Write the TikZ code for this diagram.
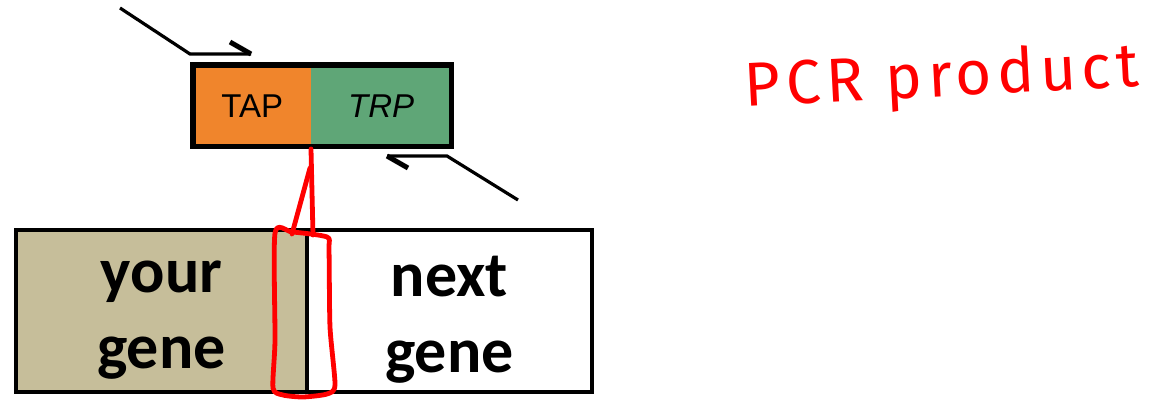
\documentclass[tikz,border=0pt]{standalone}
\usepackage{fontspec}
\setmainfont{Carlito}
\newfontfamily\helv{Liberation Sans}
\newfontfamily\hand[LetterSpace=9]{Fira Sans}
\definecolor{taporange}{HTML}{F0852C}
\definecolor{trpgreen}{HTML}{5FA677}
\definecolor{khaki}{HTML}{C6BE9A}
\definecolor{pen}{HTML}{FF0000}
\begin{document}
\begin{tikzpicture}[x=1pt,y=-1pt,
  genebox/.style={draw=black,line width=4pt,minimum height=162pt,inner sep=0pt},
  genetext/.style={font=\bfseries\fontsize{64}{76}\selectfont,align=center,inner sep=0pt},
  tagfill/.style={minimum height=81pt,inner sep=0pt,font=\helv\fontsize{33}{38}\selectfont},
  tagframe/.style={draw=black,line width=5.5pt},
  primer/.style={line width=3.2pt,black},
  barb/.style={line width=5pt,black},
  ink/.style={pen,line width=4.8pt,line cap=round,line join=round}]
\useasboundingbox (0,0) rectangle (1169,406);
% bottom genes
\node[genebox,fill=khaki,minimum width=291pt,anchor=north west] (your) at (14,228) {};
\node[genebox,fill=white,minimum width=285pt,anchor=north west] (next) at (305,228) {};
\node[genetext] (yourtxt) at ([yshift=-9pt]your.center) {your\\gene};
\node[genetext] (nexttxt) at ([yshift=-9pt]next.center) {next\\gene};
% tag cassette
\node[tagfill,fill=taporange,minimum width=118pt,anchor=north west] (tap) at (193,65) {TAP};
\node[tagfill,fill=trpgreen,minimum width=140pt,anchor=north west] (trp) at (311,65) {\itshape TRP};
\draw[tagframe] (tap.north west) rectangle (trp.south east);
% primers
\coordinate (p1s) at (120,8);
\coordinate (p1k) at (190,54);
\coordinate (p1e) at (251,54);
\coordinate (p1b) at (230,42);
\draw[primer] (p1s) -- (p1k) -- (p1e);
\draw[barb] (p1b) -- (p1e);
\coordinate (p2s) at (518,200);
\coordinate (p2k) at (447,156);
\coordinate (p2e) at (387,156);
\coordinate (p2b) at (408,168);
\draw[primer] (p2s) -- (p2k) -- (p2e);
\draw[barb] (p2b) -- (p2e);
% red annotation
\coordinate (junc) at (311,149);
\draw[ink] (junc) -- (313,235);
\draw[ink] (310,168) -- (292,234);
\draw[ink] plot[smooth cycle,tension=0.4] coordinates {(275,233) (292,232) (327,237) (329,250) (330,327) (335,385) (327,394) (303,397) (283,395) (273,388) (275,340)};
\node[pen,font=\hand\fontsize{62}{70}\selectfont,rotate=3,anchor=center,inner sep=0pt] (pcr) at (942,80) {PCR product};
\end{tikzpicture}
\end{document}
